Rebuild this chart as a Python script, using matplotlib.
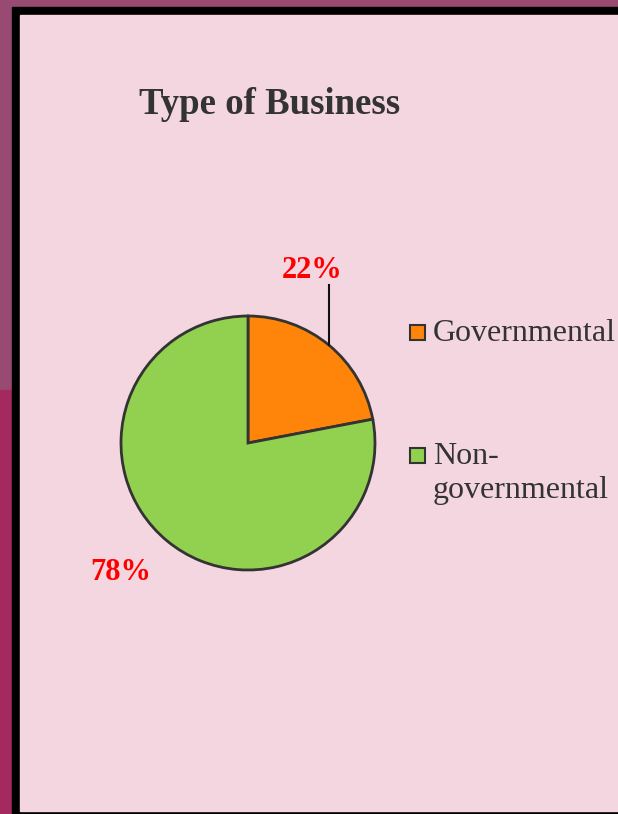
import numpy as np
import matplotlib.pyplot as plt
from matplotlib.patches import Rectangle

# data
labels = ['Governmental', 'Non-\ngovernmental']
shares = [22, 78]
colors = ['#ff840a', '#92d050']
pct_text = ['22%', '78%']

W, H = 618, 814
fig = plt.figure(figsize=(W / 100, H / 100), dpi=100)
fig.patch.set_facecolor('#984a73')

def px_rect(x0, y0, x1, y1, color):
    # rectangle given in image pixel coords (y down)
    fig.patches.append(Rectangle((x0 / W, 1 - y1 / H), (x1 - x0) / W, (y1 - y0) / H,
                                 transform=fig.transFigure, color=color, zorder=-10))

px_rect(0, 390, 12, 814, '#a3295e')   # darker strip bottom left
px_rect(12, 7, 618, 814, '#000000')   # black frame
px_rect(20, 15, 618, 811, '#f4d6e0')  # panel

fig.text(270 / W, 1 - 104 / H, 'Type of Business', ha='center', va='center',
         fontsize=26.5, fontweight='bold', family='Liberation Serif', color='#333333')

# pie axes, centred on (248, 443) px, radius 127 px
cx, cy, r = 248, 443, 127
lim = 1.5
side = 2 * lim * r
ax = fig.add_axes([(cx - side / 2) / W, 1 - (cy + side / 2) / H, side / W, side / H])
ax.patch.set_alpha(0)
wedges, _ = ax.pie(shares, colors=colors, startangle=90, counterclock=False,
                   wedgeprops=dict(edgecolor='#333333', linewidth=2))
ax.set_xlim(-lim, lim)
ax.set_ylim(-lim, lim)
ax.set_aspect('equal')
ax.axis('off')

# percentage labels
for i, w in enumerate(wedges):
    mid = np.deg2rad((w.theta1 + w.theta2) / 2)
    x, y = np.cos(mid), np.sin(mid)
    if i == 0:
        ax.plot([x, x], [y, 1.245], color='#111111', lw=1.5)
        ax.text(x - 0.13, 1.36, pct_text[i], ha='center', va='center', fontsize=22,
                fontweight='bold', family='Liberation Serif', color='#ff0000')
    else:
        ax.text(x * 1.57, y * 1.32, pct_text[i], ha='center', va='center', fontsize=22,
                fontweight='bold', family='Liberation Serif', color='#ff0000')

# legend drawn by hand
ly = [332, 455]
for lab, col, y in zip(labels, colors, ly):
    fig.patches.append(Rectangle((410 / W, 1 - (y + 8) / H), 15 / W, 15 / H,
                                 transform=fig.transFigure, facecolor=col,
                                 edgecolor='#333333', lw=1.5, zorder=3))
    fig.text(433 / W, 1 - (y - 13) / H, lab, ha='left', va='top', fontsize=23,
             family='Liberation Serif', color='#333333', linespacing=1.22)

fig.savefig('out.png', dpi=100, facecolor=fig.get_facecolor())
